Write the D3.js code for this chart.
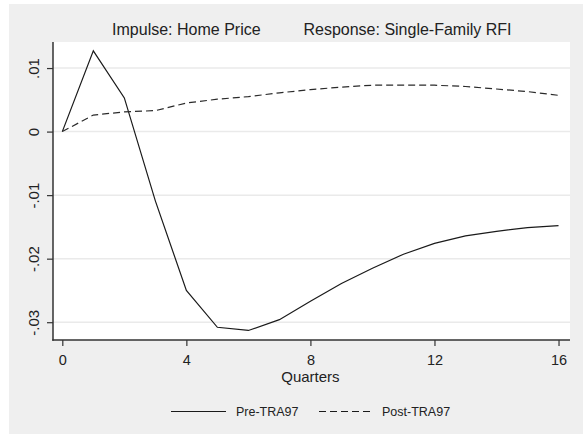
<!DOCTYPE html>
<html>
<head>
<meta charset="utf-8">
<script src="https://cdn.jsdelivr.net/npm/d3@7"></script>
<style>
  html, body { margin: 0; padding: 0; background: #ffffff; }
  svg { display: block; font-family: "Liberation Sans", Arial, sans-serif; }
</style>
</head>
<body>
<svg id="chart" width="583" height="435"></svg>
<script>
// Impulse response of single-family RFI to a home price shock, by quarter
const quarters = d3.range(0, 17);
const preTRA97 = [0, 0.0127, 0.0053, -0.0109, -0.0250, -0.0308, -0.0313, -0.0296, -0.0267,
                  -0.0239, -0.0215, -0.0193, -0.0176, -0.0164, -0.0157, -0.0151, -0.0148];
const postTRA97 = [0, 0.0026, 0.0031, 0.0033, 0.0045, 0.0051, 0.0055, 0.0061, 0.0066,
                   0.0070, 0.0073, 0.0073, 0.0073, 0.0071, 0.0067, 0.0063, 0.0057];
const xTicks = [0, 4, 8, 12, 16];
const yTicks = [0.01, 0, -0.01, -0.02, -0.03];
const yTickLabels = [".01", "0", "-.01", "-.02", "-.03"];
const titleLeft = "Impulse: Home Price";
const titleRight = "Response: Single-Family RFI";
const xTitle = "Quarters";
const seriesNames = ["Pre-TRA97", "Post-TRA97"];

const svg = d3.select("#chart");
const plot = { left: 53, right: 570, top: 42, bottom: 340 };

// outer grey panel
svg.append("rect")
  .attr("x", 9).attr("y", 4).attr("width", 574).attr("height", 430)
  .attr("fill", "#efefef");

// plot region
svg.append("rect")
  .attr("x", plot.left).attr("y", plot.top)
  .attr("width", plot.right - plot.left).attr("height", plot.bottom - plot.top)
  .attr("fill", "#ffffff");

const x = d3.scaleLinear().domain([-0.3, 16.37]).range([plot.left, plot.right]);
const y = d3.scaleLinear().domain([-0.0328, 0.0141]).range([plot.bottom, plot.top]);

// horizontal gridlines
svg.append("g").selectAll("line").data(yTicks).join("line")
  .attr("x1", plot.left).attr("x2", plot.right)
  .attr("y1", d => y(d)).attr("y2", d => y(d))
  .attr("stroke", "#eaeaea").attr("stroke-width", 1.5);

// y axis
const yAxis = svg.append("g")
  .attr("transform", `translate(${plot.left},0)`)
  .call(d3.axisLeft(y).tickValues(yTicks).tickSize(6).tickFormat((d, i) => yTickLabels[i]));
yAxis.select(".domain").attr("stroke", "#333").attr("stroke-width", 1.5)
  .attr("d", `M0,${plot.top}V${plot.bottom + 0.75}`);
yAxis.selectAll(".tick line").attr("stroke", "#333").attr("stroke-width", 1.2);
yAxis.selectAll(".tick text")
  .attr("fill", "#222").attr("font-size", 15)
  .attr("x", 0).attr("dy", 0)
  .attr("text-anchor", "middle")
  .attr("transform", "translate(-14,0) rotate(-90)");

// x axis
const xAxis = svg.append("g")
  .attr("transform", `translate(0,${plot.bottom})`)
  .call(d3.axisBottom(x).tickValues(xTicks).tickSize(6).tickFormat(d3.format("d")));
xAxis.select(".domain").attr("stroke", "#333").attr("stroke-width", 1.5)
  .attr("d", `M${plot.left - 0.75},0H${plot.right}`);
xAxis.selectAll(".tick line").attr("stroke", "#333").attr("stroke-width", 1.2);
xAxis.selectAll(".tick text")
  .attr("fill", "#222").attr("font-size", 14.5)
  .attr("y", 24.5).attr("dy", 0);

svg.append("text")
  .attr("x", x(8)).attr("y", 382)
  .attr("text-anchor", "middle").attr("font-size", 15).attr("fill", "#222")
  .text(xTitle);

// titles
svg.append("text")
  .attr("x", x(4)).attr("y", 35)
  .attr("text-anchor", "middle").attr("font-size", 16).attr("fill", "#222")
  .text(titleLeft);
svg.append("text")
  .attr("x", 407.5).attr("y", 35)
  .attr("text-anchor", "middle").attr("font-size", 16).attr("fill", "#222")
  .text(titleRight);

// response lines
const line = d3.line().x((d, i) => x(quarters[i])).y(d => y(d));
svg.append("path").datum(preTRA97)
  .attr("d", line).attr("fill", "none")
  .attr("stroke", "#1a1a1a").attr("stroke-width", 1.2);
svg.append("path").datum(postTRA97)
  .attr("d", line).attr("fill", "none")
  .attr("stroke", "#2a2a2a").attr("stroke-width", 1.2)
  .attr("stroke-dasharray", "7,4");

// legend
const legend = svg.append("g").attr("transform", "translate(0,411.5)");
const legendItems = [
  { name: seriesNames[0], x0: 171, x1: 226, dash: null },
  { name: seriesNames[1], x0: 319, x1: 372, dash: "7,4" }
];
legendItems.forEach(it => {
  legend.append("line")
    .attr("x1", it.x0).attr("x2", it.x1).attr("y1", 0).attr("y2", 0)
    .attr("stroke", "#1a1a1a").attr("stroke-width", 1.2)
    .attr("stroke-dasharray", it.dash);
  legend.append("text")
    .attr("x", it.x1 + 10).attr("y", 4.5)
    .attr("font-size", 12.5).attr("fill", "#222")
    .text(it.name);
});
</script>
</body>
</html>
